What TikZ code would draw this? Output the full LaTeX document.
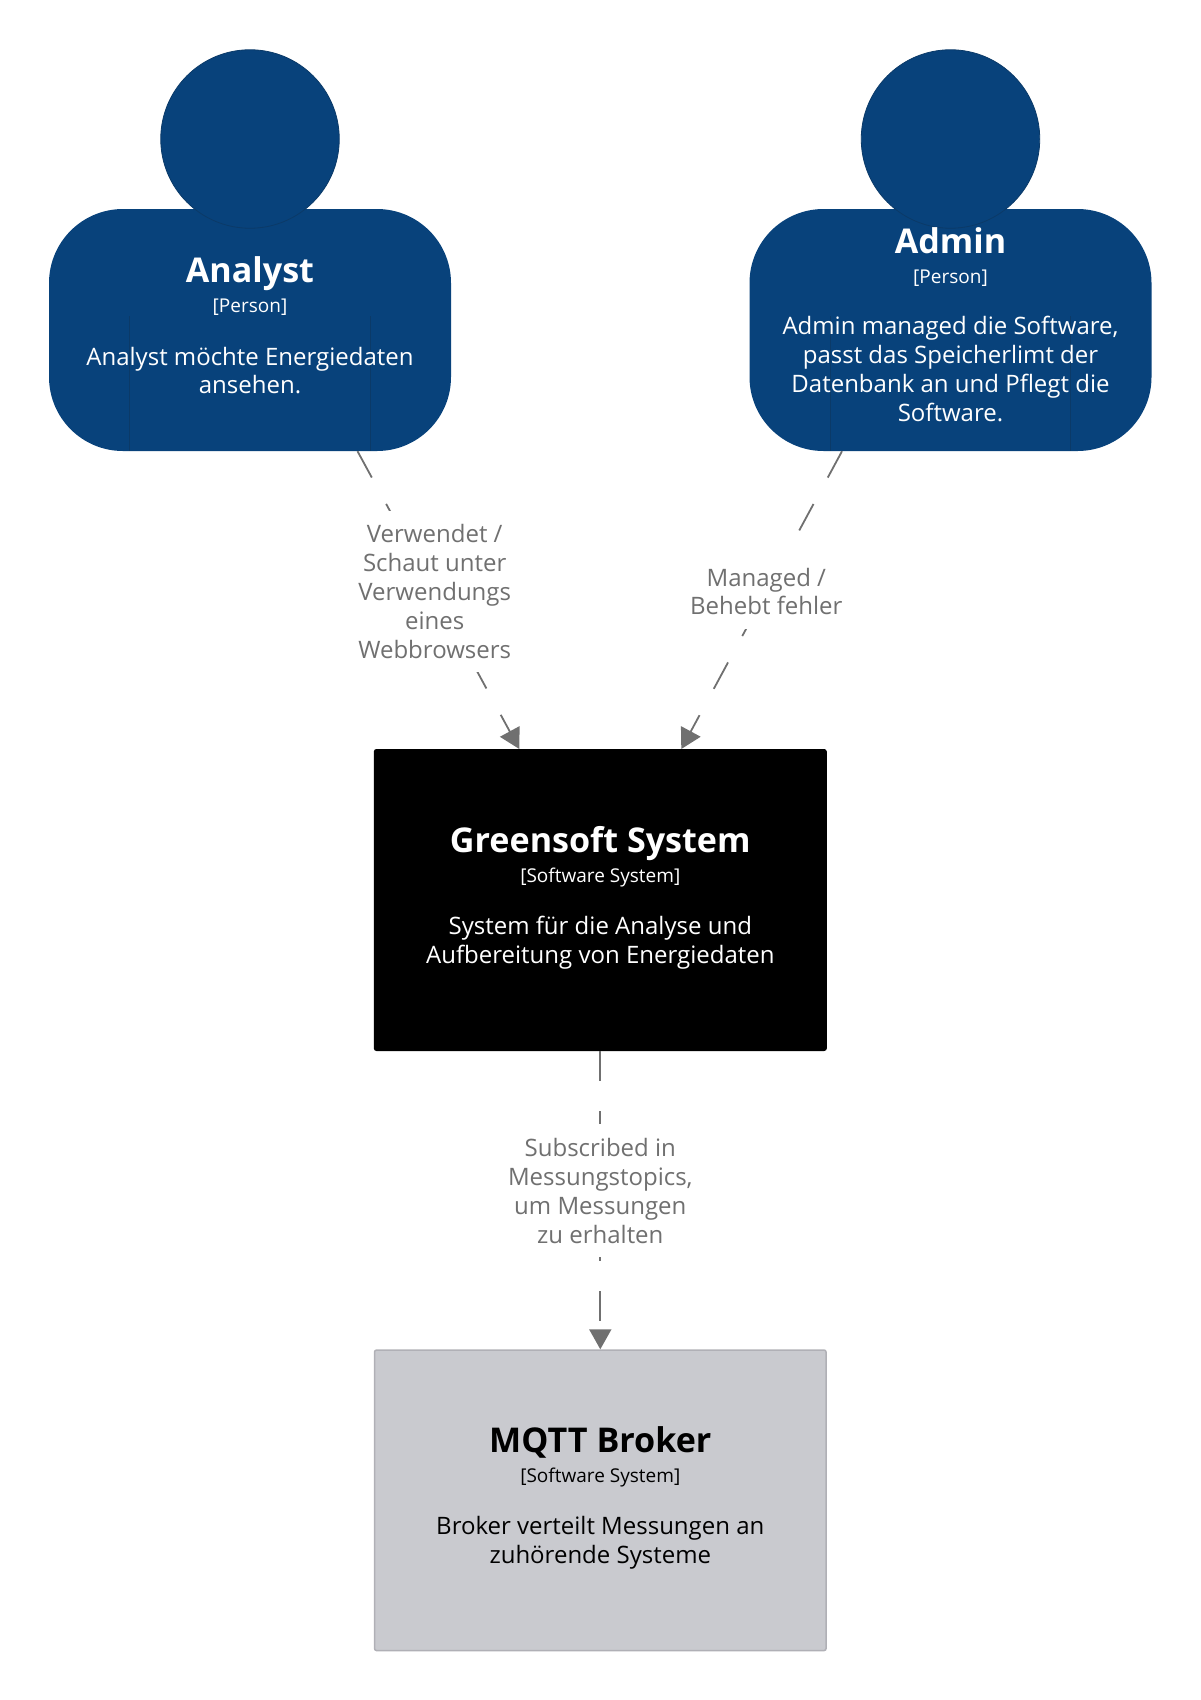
\documentclass[tikz,border=0pt]{standalone}
\usepackage{fontspec}
\setmainfont{Open Sans}
\usetikzlibrary{arrows.meta}

\definecolor{personblue}{HTML}{08427B}
\definecolor{personline}{HTML}{0B3A68}
\definecolor{brokerfill}{HTML}{C9CACF}
\definecolor{brokerline}{HTML}{B0B0B6}
\definecolor{relgray}{HTML}{707070}

\tikzset{
 titletext/.style={anchor=base,inner sep=0pt,font=\fontsize{34.1}{40}\selectfont\bfseries},
 typetext/.style={anchor=base,inner sep=0pt,font=\fontsize{19}{24}\selectfont},
 desctext/.style={inner sep=0pt,align=center,font=\fontsize{24}{28.8}\selectfont},
 sysbox/.style={draw,minimum width=451.5pt,minimum height=300.5pt,rounded corners=2pt,inner sep=0pt,line width=1.5pt},
 rel/.style={draw=relgray,line width=1.8pt,dash pattern=on 30pt off 30pt,-{Triangle[length=20pt,width=22pt,fill=relgray]}},
 rellabel/.style={fill=white,inner sep=0pt,inner ysep=14pt,inner xsep=6pt,text=relgray,align=center,font=\fontsize{24}{28.8}\selectfont}
}

\begin{document}
\begin{tikzpicture}[x=1pt,y=-1pt]

\useasboundingbox (0,0) rectangle (1200,1700);

\newcommand{\labels}[6] % [name][x][y title][title][y desc][desc]
{
 \node[titletext] (#1title) at (#2,#3) {#4};
 \node[typetext] (#1type) at (#2,#3+30) {[\typename]};
 \node[desctext] (#1desc) at (#2,#5) {#6};
}

\newcommand{\person}[2] % [name][x]
{
 \node[fill=personblue,minimum width=402pt,minimum height=242pt,rounded corners=74pt,inner sep=0pt] (#1) at (#2,330) {};
 \draw[personline,line width=.8pt] (#2-120.5,316) -- (#2-120.5,451);
 \draw[personline,line width=.8pt] (#2+120,316) -- (#2+120,451);
 \node[circle,fill=personblue,draw=personline,line width=.8pt,minimum size=178.5pt,inner sep=0pt] (#1head) at (#2,139) {};
}

\person{analyst}{250}
\person{admin}{950.5}

\node[sysbox,draw=black,fill=black] (greensoft) at (600.3,900) {};
\node[sysbox,draw=brokerline,fill=brokerfill] (broker) at (600.3,1500.3) {};

\def\typename{Person}
\begin{scope}[text=white]
 \labels{analyst}{250}{282.5}{Analyst}{370.5}{Analyst möchte Energiedaten\\ansehen.}
 \labels{admin}{950.5}{253}{Admin}{369}{Admin managed die Software,\\passt das Speicherlimt der\\Datenbank an und Pflegt die\\Software.}
 \def\typename{Software System}
 \labels{greensoft}{600.3}{852.5}{Greensoft System}{943}{System für die Analyse und\\Aufbereitung von Energiedaten}
\end{scope}
\def\typename{Software System}
\labels{broker}{600.3}{1452}{MQTT Broker}{1543}{Broker verteilt Messungen an\\zuhörende Systeme}

\draw[rel] ([xshift=107.5pt]analyst.south) -- node[rellabel,pos=.471,xshift=1pt] (usage) {Verwendet /\\Schaut unter\\Verwendungs\\eines\\Webbrowsers} ([xshift=-81pt]greensoft.north);
\draw[rel] ([xshift=-108.5pt]admin.south) -- node[rellabel,pos=.471] (manage) {Managed /\\Behebt fehler} ([xshift=81pt]greensoft.north);
\draw[rel] (greensoft.south) -- node[rellabel,pos=.469] (subscribe) {Subscribed in\\Messungstopics,\\um Messungen\\zu erhalten} (broker.north);

\end{tikzpicture}
\end{document}
